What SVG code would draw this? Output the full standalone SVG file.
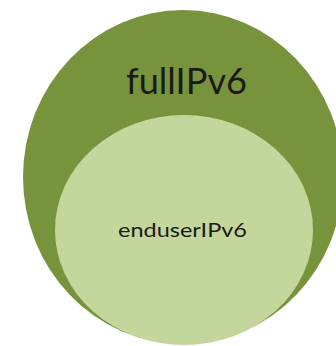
<svg xmlns="http://www.w3.org/2000/svg" width="336" height="346" viewBox="0 0 336 346">
<style>
.lbl{font-family:Lato,"Open Sans","Liberation Sans",sans-serif;fill:#1a1a1a;text-anchor:start}
</style>
<rect width="336" height="346" fill="#ffffff"/>
<g id="fullIPv6">
<ellipse cx="183" cy="177" rx="160" ry="167" fill="#77933C"/>
<text class="lbl" x="126" y="94" font-size="36" textLength="121" lengthAdjust="spacingAndGlyphs">fullIPv6</text>
</g>
<g id="enduserIPv6">
<ellipse cx="184" cy="230" rx="129" ry="115" fill="#C3D69B"/>
<text class="lbl" x="118" y="237" font-size="19" textLength="129" lengthAdjust="spacingAndGlyphs">enduserIPv6</text>
</g>
<g id="connectors"></g>
</svg>
